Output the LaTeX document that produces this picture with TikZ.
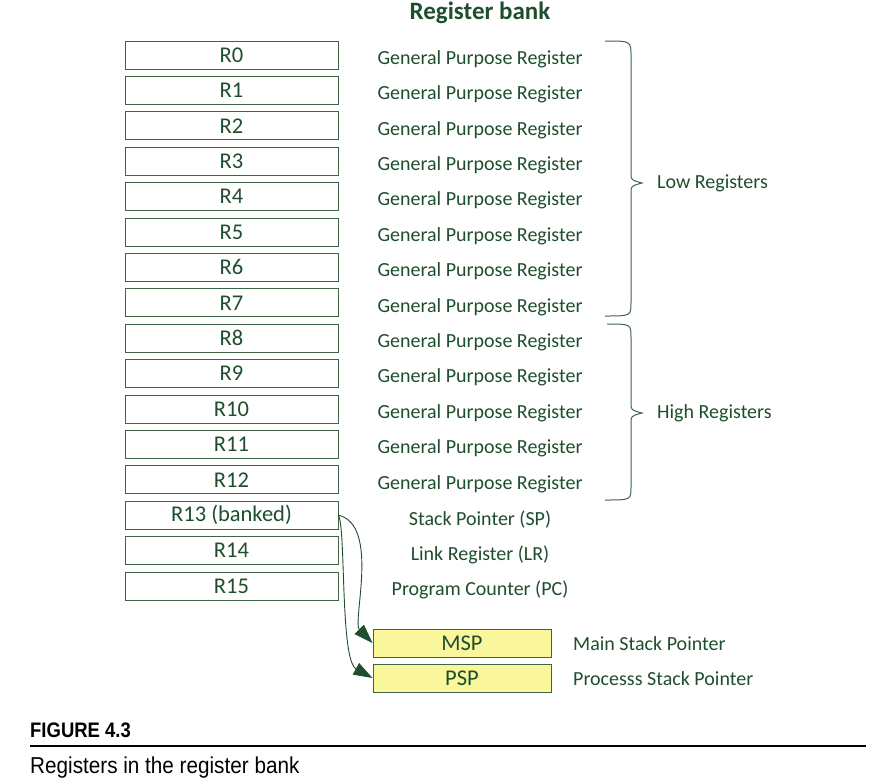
\documentclass[tikz,border=0pt]{standalone}
\usepackage{fontspec}
\setmainfont{Carlito}
\newfontfamily\capfont[FakeStretch=0.88]{Liberation Sans}
\newfontfamily\capfontwide[FakeStretch=0.9]{Liberation Sans}
\usetikzlibrary{arrows.meta}
\definecolor{bankgreen}{RGB}{30,78,45}
\definecolor{edgegreen}{RGB}{62,100,72}
\definecolor{spyellow}{RGB}{250,246,155}
\begin{document}
\begin{tikzpicture}[
    x=1pt, y=-1pt,
    reg/.style={draw=edgegreen, line width=1pt, minimum width=213pt, minimum height=28pt,
                inner sep=0pt, font=\fontsize{22.5}{26}\selectfont, text=bankgreen},
    spreg/.style={reg, fill=spyellow, minimum width=178pt},
    desc/.style={inner sep=0pt, font=\fontsize{20}{24}\selectfont, text=bankgreen},
    regbrace/.style={draw=edgegreen, line width=1pt},
    arrow/.style={-{Triangle[length=19pt,width=13pt,fill=bankgreen]}, draw=bankgreen, line width=0.9pt}
]
\useasboundingbox (0,0) rectangle (883,779);

% Title
\node[desc, font=\fontsize{25}{29}\selectfont\bfseries] (title) at (480,13) {Register bank};

% General purpose registers
\foreach \i in {0,...,12} {
  \node[reg] (r\i) at (231.5,{55+35.4*\i}) {R\i};
  \node[desc] (gp\i) at (480,{59+35.4*\i}) {General Purpose Register};
}

% Special registers
\node[reg] (r13) at (231.5,515.2) {R13 (banked)};
\node[reg] (r14) at (231.5,550.6) {R14};
\node[reg] (r15) at (231.5,586) {R15};
\node[desc] (sp) at (480,519.2) {Stack Pointer (SP)};
\node[desc] (lr) at (480,554.6) {Link Register (LR)};
\node[desc] (pc) at (480,590) {Program Counter (PC)};

% Banked stack pointers
\node[spreg] (msp) at (462,643) {MSP};
\node[spreg] (psp) at (462,678) {PSP};
\node[desc, anchor=west] (msplabel) at (573,644) {Main Stack Pointer};
\node[desc, anchor=west] (psplabel) at (573,679) {Processs Stack Pointer};

% Braces
\draw[regbrace] (605,41) .. controls (631,41) .. (631,56) -- (631,173)
  .. controls (631,180) .. (642,183) .. controls (631,186) .. (631,193)
  -- (631,302) .. controls (631,316) .. (605,316);
\draw[regbrace] (607,324) .. controls (631,324) .. (631,338) -- (631,403)
  .. controls (631,410) .. (642,413) .. controls (631,416) .. (631,423)
  -- (631,487) .. controls (631,500) .. (605,500);
\node[desc, anchor=west] (low) at (657,183) {Low Registers};
\node[desc, anchor=west] (high) at (657,413) {High Registers};

% Arrows
\draw[arrow] (r13.east) .. controls (380,525) and (352,622) .. (msp.west);
\draw[arrow] (r13.east) .. controls (346,530) and (340,660) .. (psp.west);

% Caption
\node[inner sep=0pt, anchor=base west, font=\capfont\fontsize{21}{24}\selectfont\bfseries] (fig) at (30,737) {FIGURE 4.3};
\coordinate (rulestart) at (30,746);
\coordinate (ruleend) at (866,746);
\draw[line width=2pt] (rulestart) -- (ruleend);
\node[inner sep=0pt, anchor=base west, font=\capfontwide\fontsize{23}{26}\selectfont] (cap) at (30,773) {Registers in the register bank};
\end{tikzpicture}
\end{document}
